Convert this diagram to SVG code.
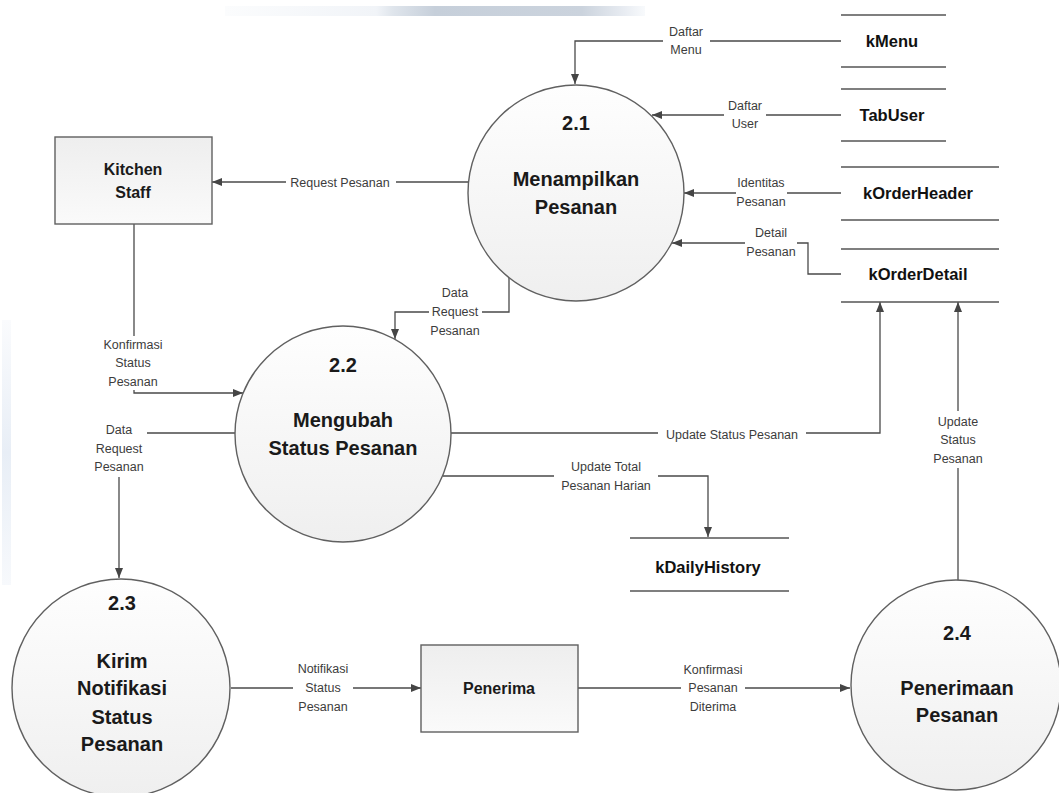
<svg xmlns="http://www.w3.org/2000/svg" width="1059" height="793" viewBox="0 0 1059 793">
  <defs>
    <linearGradient id="circFill" x1="0" y1="0" x2="0" y2="1">
      <stop offset="0" stop-color="#fefefe"/>
      <stop offset="1" stop-color="#efefef"/>
    </linearGradient>
    <linearGradient id="boxFill" x1="0" y1="0" x2="0" y2="1">
      <stop offset="0" stop-color="#eeeeee"/>
      <stop offset="1" stop-color="#fafafa"/>
    </linearGradient>
    <linearGradient id="topBar" x1="0" y1="0" x2="1" y2="0">
      <stop offset="0" stop-color="#fbfcfd"/>
      <stop offset="0.36" stop-color="#f1f4f8"/>
      <stop offset="0.40" stop-color="#dfe5ec"/>
      <stop offset="0.5" stop-color="#c6cfda"/>
      <stop offset="0.85" stop-color="#cbd3dd"/>
      <stop offset="0.95" stop-color="#e8ecf2"/>
      <stop offset="1" stop-color="#f8fafc"/>
    </linearGradient>
    <linearGradient id="leftBand" x1="0" y1="0" x2="0" y2="1">
      <stop offset="0" stop-color="#fafbfd"/>
      <stop offset="0.5" stop-color="#e8eef6"/>
      <stop offset="1" stop-color="#f7f9fc"/>
    </linearGradient>
    <marker id="arr" viewBox="0 0 10 8" refX="10" refY="4" markerWidth="10" markerHeight="8" markerUnits="userSpaceOnUse" orient="auto">
      <path d="M0,0 L10,4 L0,8 z" fill="#454545"/>
    </marker>
    <style>
      .proc { fill: url(#circFill); stroke: #606060; stroke-width: 1.4; }
      .ent { fill: url(#boxFill); stroke: #606060; stroke-width: 1.4; }
      .store { stroke: #555555; stroke-width: 1.5; }
      .flow { fill: none; stroke: #4a4a4a; stroke-width: 1.3; marker-end: url(#arr); }
      .bg { fill: #ffffff; }
      .lbl { font-family: "Liberation Sans", Arial, sans-serif; font-size: 12.5px; fill: #3c3c3c; text-anchor: middle; }
      .ptxt { font-family: "Liberation Sans", Arial, sans-serif; font-size: 20px; font-weight: bold; fill: #1a1a1a; text-anchor: middle; }
      .etxt { font-family: "Liberation Sans", Arial, sans-serif; font-size: 16px; font-weight: bold; fill: #1a1a1a; text-anchor: middle; }
      .stxt { font-family: "Liberation Sans", Arial, sans-serif; font-size: 16.5px; font-weight: bold; fill: #111111; text-anchor: middle; }
    </style>
  </defs>

  <rect x="0" y="0" width="1059" height="793" fill="#ffffff"/>
  <rect x="225" y="6" width="420" height="10" fill="url(#topBar)"/>
  <rect x="2" y="320" width="9" height="265" fill="url(#leftBand)"/>

  <g id="connectors">
    <path class="flow" d="M841,41 H575 V84"/>
    <path class="flow" d="M841,115 H652"/>
    <path class="flow" d="M841,193 H684"/>
    <path class="flow" d="M841,274 H808 V243 H672"/>
    <path class="flow" d="M468,182 H212"/>
    <path class="flow" d="M509,278 V312 H395 V339"/>
    <path class="flow" d="M134,224 V393 H243"/>
    <path class="flow" d="M235,433 H119 V578"/>
    <path class="flow" d="M451,433 H880 V302"/>
    <path class="flow" d="M443,476 H708 V537"/>
    <path class="flow" d="M958,580 V302"/>
    <path class="flow" d="M231,688 H421"/>
    <path class="flow" d="M578,688 H850"/>

    <rect class="bg" x="663" y="23" width="47" height="36"/>
    <text class="lbl" x="686" y="36">Daftar</text>
    <text class="lbl" x="686" y="54">Menu</text>

    <rect class="bg" x="724" y="97" width="42" height="36"/>
    <text class="lbl" x="745" y="110">Daftar</text>
    <text class="lbl" x="745" y="128">User</text>

    <rect class="bg" x="736" y="174" width="51" height="37"/>
    <text class="lbl" x="761" y="187">Identitas</text>
    <text class="lbl" x="761" y="206">Pesanan</text>

    <rect class="bg" x="745" y="224" width="52" height="37"/>
    <text class="lbl" x="771" y="237">Detail</text>
    <text class="lbl" x="771" y="256">Pesanan</text>

    <rect class="bg" x="286" y="174" width="110" height="16"/>
    <text class="lbl" x="340" y="186.5">Request Pesanan</text>

    <rect class="bg" x="429" y="284" width="53" height="56"/>
    <text class="lbl" x="455" y="297">Data</text>
    <text class="lbl" x="455" y="316">Request</text>
    <text class="lbl" x="455" y="335">Pesanan</text>

    <rect class="bg" x="100" y="336" width="67" height="54"/>
    <text class="lbl" x="133" y="349">Konfirmasi</text>
    <text class="lbl" x="133" y="367">Status</text>
    <text class="lbl" x="133" y="386">Pesanan</text>

    <rect class="bg" x="92" y="421" width="55" height="56"/>
    <text class="lbl" x="119" y="434">Data</text>
    <text class="lbl" x="119" y="453">Request</text>
    <text class="lbl" x="119" y="471">Pesanan</text>

    <rect class="bg" x="658" y="426" width="148" height="16"/>
    <text class="lbl" x="732" y="438.5">Update Status Pesanan</text>

    <rect class="bg" x="554" y="458" width="104" height="37"/>
    <text class="lbl" x="606" y="471">Update Total</text>
    <text class="lbl" x="606" y="490">Pesanan Harian</text>

    <rect class="bg" x="930" y="411" width="56" height="57"/>
    <text class="lbl" x="958" y="426">Update</text>
    <text class="lbl" x="958" y="444">Status</text>
    <text class="lbl" x="958" y="463">Pesanan</text>

    <rect class="bg" x="293" y="660" width="60" height="56"/>
    <text class="lbl" x="323" y="673">Notifikasi</text>
    <text class="lbl" x="323" y="692">Status</text>
    <text class="lbl" x="323" y="711">Pesanan</text>

    <rect class="bg" x="681" y="661" width="64" height="55"/>
    <text class="lbl" x="713" y="674">Konfirmasi</text>
    <text class="lbl" x="713" y="692">Pesanan</text>
    <text class="lbl" x="713" y="711">Diterima</text>
  </g>

  <g id="p21">
    <circle class="proc" cx="576" cy="193" r="108"/>
    <text class="ptxt" x="576" y="130">2.1</text>
    <text class="ptxt" x="576" y="186">Menampilkan</text>
    <text class="ptxt" x="576" y="214">Pesanan</text>
  </g>
  <g id="p22">
    <circle class="proc" cx="343" cy="434" r="108"/>
    <text class="ptxt" x="343" y="372">2.2</text>
    <text class="ptxt" x="343" y="427">Mengubah</text>
    <text class="ptxt" x="343" y="455">Status Pesanan</text>
  </g>
  <g id="p23">
    <circle class="proc" cx="121" cy="688" r="109"/>
    <text class="ptxt" x="122" y="610">2.3</text>
    <text class="ptxt" x="122" y="668">Kirim</text>
    <text class="ptxt" x="122" y="695">Notifikasi</text>
    <text class="ptxt" x="122" y="724">Status</text>
    <text class="ptxt" x="122" y="751">Pesanan</text>
  </g>
  <g id="p24">
    <circle class="proc" cx="956" cy="685" r="105"/>
    <text class="ptxt" x="957" y="640">2.4</text>
    <text class="ptxt" x="957" y="695">Penerimaan</text>
    <text class="ptxt" x="957" y="722">Pesanan</text>
  </g>

  <g id="kitchen">
    <rect class="ent" x="55" y="137" width="157" height="87"/>
    <text class="etxt" x="133" y="175">Kitchen</text>
    <text class="etxt" x="133" y="198">Staff</text>
  </g>
  <g id="penerima">
    <rect class="ent" x="421" y="645" width="157" height="87"/>
    <text class="etxt" x="499" y="694">Penerima</text>
  </g>

  <g id="kMenu">
    <line class="store" x1="841" y1="15" x2="946" y2="15"/>
    <line class="store" x1="841" y1="67" x2="946" y2="67"/>
    <text class="stxt" x="892" y="47">kMenu</text>
  </g>
  <g id="TabUser">
    <line class="store" x1="841" y1="89" x2="946" y2="89"/>
    <line class="store" x1="841" y1="141" x2="946" y2="141"/>
    <text class="stxt" x="892" y="121">TabUser</text>
  </g>
  <g id="kOrderHeader">
    <line class="store" x1="841" y1="167" x2="999" y2="167"/>
    <line class="store" x1="841" y1="220" x2="999" y2="220"/>
    <text class="stxt" x="918" y="199">kOrderHeader</text>
  </g>
  <g id="kOrderDetail">
    <line class="store" x1="841" y1="249" x2="999" y2="249"/>
    <line class="store" x1="841" y1="302" x2="999" y2="302"/>
    <text class="stxt" x="918" y="280">kOrderDetail</text>
  </g>
  <g id="kDailyHistory">
    <line class="store" x1="630" y1="538" x2="789" y2="538"/>
    <line class="store" x1="630" y1="591" x2="789" y2="591"/>
    <text class="stxt" x="708" y="573">kDailyHistory</text>
  </g>
</svg>
